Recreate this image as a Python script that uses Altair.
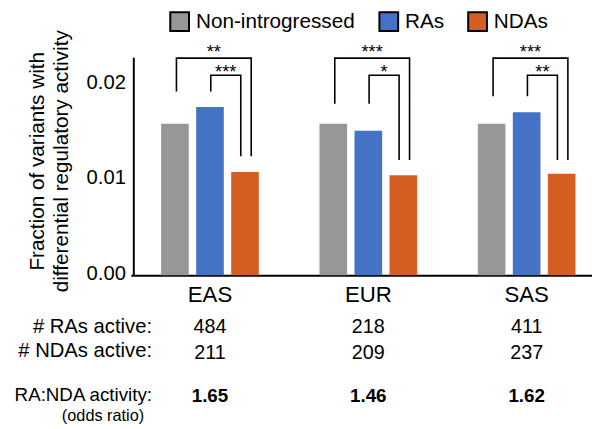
import altair as alt
import pandas as pd

# ---------------- data ----------------
groups = ["EAS", "EUR", "SAS"]
series = ["Non-introgressed", "RAs", "NDAs"]
colors = ["#979797", "#4472C4", "#D55F22"]

non_introgressed = [0.0159, 0.0159, 0.0159]
ras = [0.01767, 0.01518, 0.01712]
ndas = [0.01083, 0.01049, 0.01065]

ras_active = [484, 218, 411]
ndas_active = [211, 209, 237]
odds_ratio = ["1.65", "1.46", "1.62"]

outer_stars = ["**", "***", "***"]
inner_stars = ["***", "*", "**"]
outer_top = [0.0228, 0.0228, 0.0228]
inner_top = [0.0210, 0.0210, 0.0210]
left_bottom = [0.0193, 0.0180, 0.0188]
right_bottom = [0.0125, 0.0121, 0.0121]

# ---------------- layout constants ----------------
W, H = 465, 221
YMAX = 0.0229
XR = [-2.5, 479]                  # pixel range of the group band scale
STEP = (XR[1] - XR[0]) / 3        # px per group
SLOT = 35.5                       # px between bars inside a group
FRAC = SLOT / STEP
FONT = "Liberation Sans"

band_scale = alt.Scale(type="band", domain=groups, range=XR, paddingInner=0, paddingOuter=0)
lin_scale = alt.Scale(domain=[0, 3], range=XR, nice=False, zero=False)

# ---------------- tables ----------------
bar_rows = []
for vals, s in zip([non_introgressed, ras, ndas], series):
    for g, v in zip(groups, vals):
        bar_rows.append({"group": g, "series": s, "value": v})
bar_df = pd.DataFrame(bar_rows)

br_rows, star_rows = [], []
for gi, g in enumerate(groups):
    c = gi + 0.5
    gray_x, blue_x, orange_x = c - FRAC, c, c + FRAC
    specs = [
        ("outer", gray_x + 1.5 / STEP, orange_x + 6.3 / STEP, outer_top[gi], outer_stars[gi]),
        ("inner", blue_x + 0.8 / STEP, orange_x - 4.3 / STEP, inner_top[gi], inner_stars[gi]),
    ]
    for kind, lx, rx, top, stars in specs:
        pts = [(lx, left_bottom[gi]), (lx, top), (rx, top), (rx, right_bottom[gi])]
        for k, (px, py) in enumerate(pts):
            br_rows.append({"bracket": f"{g}-{kind}", "order": k, "bx": px, "value": py})
        star_rows.append({"kind": kind, "bx": (lx + rx) / 2, "value": top, "stars": stars})
br_df = pd.DataFrame(br_rows)
star_df = pd.DataFrame(star_rows)

table_df = pd.DataFrame({"group": groups, "ras": ras_active, "ndas": ndas_active, "odds": odds_ratio})

# ---------------- layers ----------------
bars = alt.Chart(bar_df).mark_bar().encode(
    x=alt.X("group:N", sort=groups, scale=band_scale,
            axis=alt.Axis(title=None, labelFontSize=22.5, labelPadding=9, ticks=False,
                          domainColor="black", domainWidth=2, labelAngle=0, labelColor="black",
                          labelFont=FONT)),
    xOffset=alt.XOffset("series:N", sort=series,
                        scale=alt.Scale(domain=series, paddingInner=0.211, paddingOuter=0.866)),
    y=alt.Y("value:Q", scale=alt.Scale(domain=[0, YMAX], nice=False),
            axis=alt.Axis(values=[0, 0.01, 0.02], format=".2f", grid=False, ticks=False,
                          labelFontSize=20.5, labelColor="black", labelPadding=8, labelOffset=-2,
                          domainColor="black", domainWidth=2, labelFont=FONT,
                          title=["Fraction of variants with", "differential regulatory activity"],
                          titleFontSize=21, titleFontWeight="normal", titleColor="black",
                          titleFont=FONT, titleLineHeight=25, titleX=-91.5, titleY=105,
                          titleAngle=270, titleAlign="center", titleBaseline="alphabetic",
                          titleLimit=0)),
    color=alt.Color("series:N", sort=series, scale=alt.Scale(domain=series, range=colors),
                    legend=alt.Legend(title=None, orient="none", legendX=36.5, legendY=-46.5,
                                      direction="horizontal", symbolType="square", symbolSize=361,
                                      symbolStrokeColor="black", symbolStrokeWidth=2,
                                      symbolOpacity=1, labelFontSize=21, labelOffset=6,
                                      labelLimit=0, columnPadding=20, padding=0,
                                      labelColor="black", labelFont=FONT)),
)

brackets = alt.Chart(br_df).mark_line(color="black", strokeWidth=1.6, strokeJoin="miter",
                                      strokeCap="butt").encode(
    x=alt.X("bx:Q", scale=lin_scale, axis=None),
    y=alt.Y("value:Q"),
    detail="bracket:N",
    order="order:Q",
)

def star_layer(kind, dy):
    return alt.Chart(star_df[star_df["kind"] == kind]).mark_text(
        fontSize=18.5, baseline="alphabetic", dy=dy, color="black", font=FONT).encode(
        x=alt.X("bx:Q", scale=lin_scale, axis=None),
        y=alt.Y("value:Q"),
        text="stars:N",
    )

def row_text(field, ypx, size=20, weight="normal"):
    return alt.Chart(table_df).mark_text(fontSize=size, fontWeight=weight, baseline="alphabetic",
                                         align="center", color="black", font=FONT).encode(
        x=alt.X("group:N", sort=groups, scale=band_scale, axis=None),
        y=alt.value(ypx),
        text=alt.Text(f"{field}:N"),
    )

def label_text(label, xpx, ypx, size):
    return alt.Chart(pd.DataFrame({"label": [label]})).mark_text(
        fontSize=size, baseline="alphabetic", align="right", color="black", font=FONT).encode(
        x=alt.value(xpx), y=alt.value(ypx), text="label:N")

layers = [
    bars, brackets, star_layer("outer", 0), star_layer("inner", 3),
    row_text("ras", 280), row_text("ndas", 305.5), row_text("odds", 350, 19, "bold"),
    label_text("# RAs active:", 19, 279.5, 20.5),
    label_text("# NDAs active:", 19, 304, 20.5),
    label_text("RA:NDA activity:", 19, 349, 19),
    label_text("(odds ratio)", 11, 368.5, 16.5),
]

chart = alt.layer(*layers).resolve_scale(x="independent").properties(
    width=W, height=H,
    autosize=alt.AutoSizeParams(type="none"),
    padding={"left": 127, "top": 47, "right": 0, "bottom": 151},
).configure(font=FONT).configure_view(strokeWidth=0)

chart.save("out.html", embed_options={"renderer": "svg", "actions": False})
